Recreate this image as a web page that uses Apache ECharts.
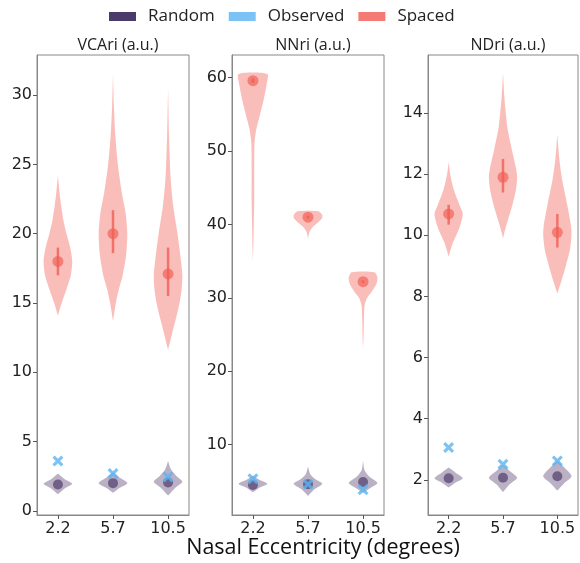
<!DOCTYPE html>
<html><head><meta charset="utf-8">
<script src="https://cdn.jsdelivr.net/npm/echarts@6/dist/echarts.min.js"></script>
<style>html,body{margin:0;padding:0;background:#fff}#c{width:580px;height:563px}</style>
</head><body><div id="c"></div>
<script>
// ---------- data ----------
const categories = ['2.2', '5.7', '10.5'];
const panelTitles = ['VCAri (a.u.)', 'NNri (a.u.)', 'NDri (a.u.)'];
const xAxisTitle = 'Nasal Eccentricity (degrees)';
const seriesNames = ['Random', 'Observed', 'Spaced'];
const yTicks = [
  [0, 5, 10, 15, 20, 25, 30],
  [10, 20, 30, 40, 50, 60],
  [2, 4, 6, 8, 10, 12, 14]
];
const yRanges = [[-0.3, 32.9], [0.4, 63.1], [0.85, 15.9]];

// Spaced violins: [value, relative density]
const spacedVCAri = [
  [[24.2,0],[23,0.11],[22,0.23],[21,0.38],[20,0.6],[19,0.86],[18,1],[17,0.9],[16,0.6],[15,0.26],[14.1,0]],
  [[31.5,0],[29,0.07],[27,0.17],[25,0.34],[23,0.61],[21.5,0.88],[20,1],[18.5,0.92],[17,0.68],[16,0.41],[15,0.2],[13.7,0]],
  [[30.5,0],[27,0.07],[24,0.18],[22,0.36],[20,0.66],[18,0.91],[17,1],[16,0.95],[15,0.8],[14,0.58],[13,0.33],[11.6,0]]
];
const spacedNNri = [
  [[60.5,1],[59,0.95],[57,0.75],[55,0.5],[53,0.24],[51,0.11],[47,0.09],[43,0.09],[40,0.06],[37,0.03],[35,0]],
  [[41.8,0.72],[41.3,1],[40.8,0.97],[40.2,0.66],[39.6,0.3],[39,0.11],[38.5,0.04],[38,0]],
  [[33.5,0.8],[32.8,1],[32,0.95],[31,0.66],[30,0.29],[29,0.11],[27,0.06],[25,0.04],[23,0]]
];
const spacedNDri = [
  [[12.4,0],[12,0.11],[11.5,0.36],[11,0.76],[10.7,1],[10.3,0.8],[10,0.54],[9.7,0.25],[9.3,0]],
  [[15.3,0],[14.5,0.1],[13.5,0.32],[12.8,0.63],[12.2,0.92],[11.9,1],[11.5,0.92],[11,0.67],[10.5,0.35],[10.1,0.1],[9.9,0]],
  [[13.3,0],[12.5,0.14],[11.8,0.35],[11,0.7],[10.3,0.97],[10,1],[9.5,0.88],[9,0.6],[8.5,0.28],[8.1,0]]
];
const spacedMedian = [[18.0, 20.0, 17.1], [59.6, 41.0, 32.2], [10.7, 11.9, 10.1]];
const spacedErrLow  = [[17.0, 18.6, 15.5], [59.3, 40.8, 32.0], [10.35, 11.4, 9.6]];
const spacedErrHigh = [[19.0, 21.7, 19.0], [59.9, 41.2, 32.4], [11.0, 12.5, 10.7]];

// Random violins: [value, relative density]
const randomVCAri = [
  [[2.7,0],[2.3,0.45],[1.95,1],[1.6,0.45],[1.2,0]],
  [[2.8,0],[2.4,0.45],[2.0,1],[1.65,0.45],[1.3,0]],
  [[3.6,0],[3.0,0.2],[2.5,0.6],[2.1,1],[1.7,0.55],[1.1,0]]
];
const randomNNri = [
  [[5.8,0],[5.2,0.45],[4.65,1],[4.1,0.45],[3.5,0]],
  [[7.0,0],[6.0,0.15],[5.3,0.5],[4.65,1],[3.9,0.45],[3.0,0]],
  [[7.8,0],[6.5,0.1],[5.6,0.45],[4.75,1],[4.0,0.45],[3.4,0]]
];
const randomNDri = [
  [[2.4,0],[2.25,0.45],[2.05,1],[1.9,0.45],[1.75,0]],
  [[2.5,0],[2.3,0.45],[2.07,1],[1.85,0.45],[1.6,0]],
  [[2.65,0],[2.4,0.5],[2.12,1],[1.9,0.5],[1.65,0]]
];
const randomMedian = [[1.9, 2.0, 2.05], [4.5, 4.6, 4.9], [2.05, 2.07, 2.12]];
const observed = [[3.6, 2.7, 2.45], [5.35, 4.6, 3.85], [3.06, 2.51, 2.62]];

const spacedProfiles = [spacedVCAri, spacedNNri, spacedNDri];
const randomProfiles = [randomVCAri, randomNNri, randomNDri];

// ---------- styles ----------
const COL_RANDOM = '#4b3b6b', COL_OBS = '#5bb4f2', COL_SPACED = '#f47b73';
const HALF_W = 0.26;
const grids = [
  {left: 37, top: 55, width: 152, height: 460},
  {left: 232, top: 55, width: 152, height: 460},
  {left: 428, top: 55, width: 150, height: 460}
];
const crossPath = 'path://M2,0 L5,3 L8,0 L10,2 L7,5 L10,8 L8,10 L5,7 L2,10 L0,8 L3,5 L0,2 Z';

function violinRenderer(profiles, fill, low, high, lineColor) {
  return function (params, api) {
    const i = params.dataIndex;
    const prof = profiles[i];
    const pts = [];
    for (let k = 0; k < prof.length; k++) pts.push(api.coord([i - prof[k][1] * HALF_W, prof[k][0]]));
    for (let k = prof.length - 1; k >= 0; k--) pts.push(api.coord([i + prof[k][1] * HALF_W, prof[k][0]]));
    const children = [{type: 'polygon', shape: {points: pts, smooth: 0.25}, style: {fill: fill}}];
    if (low) {
      const a = api.coord([i, low[i]]), b = api.coord([i, high[i]]);
      children.push({type: 'line', shape: {x1: a[0], y1: a[1], x2: b[0], y2: b[1]},
        style: {stroke: lineColor, lineWidth: 2.5}});
    }
    return {type: 'group', children: children};
  };
}

const option = {
  animation: false,
  backgroundColor: '#fff',
  legend: {
    top: 3, left: 104, itemWidth: 27, itemHeight: 9, itemGap: 14,
    icon: 'rect',
    textStyle: {fontFamily: 'Open Sans', fontSize: 17, color: '#222', padding: [0, 0, 0, 7]},
    data: [
      {name: 'Random', itemStyle: {color: COL_RANDOM}},
      {name: 'Observed', itemStyle: {color: COL_OBS}},
      {name: 'Spaced', itemStyle: {color: COL_SPACED}}
    ],
    selectedMode: false
  },
  title: panelTitles.map((t, p) => ({
    text: t, left: grids[p].left + grids[p].width / 2, top: 32, textAlign: 'center',
    textStyle: {fontFamily: 'Open Sans', fontSize: 16, fontWeight: 'normal', color: '#222'}
  })).concat([{
    text: xAxisTitle, left: 318, top: 532, textAlign: 'center',
    textStyle: {fontFamily: 'Open Sans', fontSize: 21.5, fontWeight: 'normal', color: '#111'}
  }]),
  grid: grids.map(g => Object.assign({show: true, borderColor: '#888', borderWidth: 1, backgroundColor: '#fff'}, g)),
  xAxis: grids.map((g, p) => ({
    type: 'value', gridIndex: p, min: -0.38, max: 2.38,
    splitLine: {show: false},
    axisLine: {show: true, onZero: false, lineStyle: {color: '#888'}},
    axisTick: {show: true, customValues: [0, 1, 2], length: 4, lineStyle: {color: '#555'}},
    axisLabel: {show: true, customValues: [0, 1, 2], formatter: v => categories[Math.round(v)],
      fontFamily: 'DejaVu Sans', fontSize: 16, color: '#222', margin: 6}
  })),
  yAxis: grids.map((g, p) => ({
    type: 'value', gridIndex: p, min: yRanges[p][0], max: yRanges[p][1],
    splitLine: {show: false},
    axisLine: {show: true, onZero: false, lineStyle: {color: '#888'}},
    axisTick: {show: true, customValues: yTicks[p], length: 4, lineStyle: {color: '#555'}},
    axisLabel: {show: true, customValues: yTicks[p], fontFamily: 'DejaVu Sans', fontSize: 16, color: '#222', margin: 5}
  })),
  series: []
};

for (let p = 0; p < 3; p++) {
  option.series.push({
    name: 'Spaced', type: 'custom', xAxisIndex: p, yAxisIndex: p,
    renderItem: violinRenderer(spacedProfiles[p], 'rgba(246,130,122,0.52)', spacedErrLow[p], spacedErrHigh[p], 'rgba(238,95,85,0.8)'),
    itemStyle: {color: COL_SPACED},
    data: categories.map((c, i) => [i, spacedMedian[p][i]]), z: 2
  });
  option.series.push({
    name: 'Spaced', type: 'scatter', xAxisIndex: p, yAxisIndex: p,
    symbolSize: 11, itemStyle: {color: 'rgba(240,95,85,0.85)'},
    data: categories.map((c, i) => [i, spacedMedian[p][i]]), z: 3
  });
  option.series.push({
    name: 'Random', type: 'custom', xAxisIndex: p, yAxisIndex: p,
    renderItem: violinRenderer(randomProfiles[p], 'rgba(120,100,140,0.5)'),
    itemStyle: {color: COL_RANDOM},
    data: categories.map((c, i) => [i, randomMedian[p][i]]), z: 2
  });
  option.series.push({
    name: 'Random', type: 'scatter', xAxisIndex: p, yAxisIndex: p,
    symbolSize: 10, itemStyle: {color: 'rgba(70,50,100,0.8)'},
    data: categories.map((c, i) => [i, randomMedian[p][i]]), z: 3
  });
  option.series.push({
    name: 'Observed', type: 'scatter', xAxisIndex: p, yAxisIndex: p,
    symbol: crossPath, symbolSize: 11, itemStyle: {color: COL_OBS},
    data: categories.map((c, i) => [i, observed[p][i]]), z: 4
  });
}

const chart = echarts.init(document.getElementById('c'), null, {renderer: 'canvas'});
chart.setOption(option);
</script></body></html>
